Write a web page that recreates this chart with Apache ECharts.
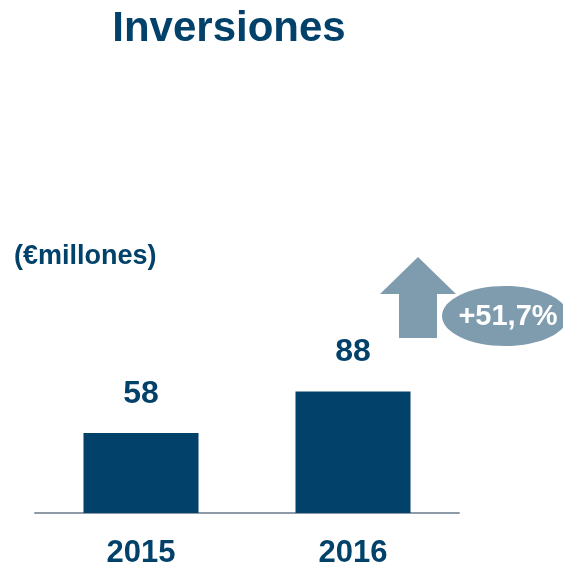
<!DOCTYPE html>
<html>
<head>
<meta charset="utf-8">
<script src="https://cdn.jsdelivr.net/npm/echarts@6/dist/echarts.min.js"></script>
<style>
  html, body { margin: 0; padding: 0; background: #fff; }
  #chart { width: 563px; height: 564px; }
</style>
</head>
<body>
<div id="chart"></div>
<script>
// data
var years = ['2015', '2016'];
var inversiones = [58, 88];
var growthLabel = '+51,7%';

var dark = '#02416a';
var grey = '#7f9caf';
var font = 'Liberation Sans, Arial, sans-serif';

var chart = echarts.init(document.getElementById('chart'));
chart.setOption({
  animation: false,
  title: {
    text: 'Inversiones',
    left: 224,
    top: 3,
    textAlign: 'center',
    textStyle: { color: dark, fontSize: 42, fontWeight: 'bold', fontFamily: font }
  },
  grid: { left: 35, right: 104, top: 375, bottom: 51, outerBoundsMode: 'none' },
  xAxis: {
    type: 'category',
    data: years,
    axisLine: { lineStyle: { color: '#8e9aa8', width: 2 } },
    axisTick: { show: false },
    axisLabel: { color: dark, fontSize: 31, fontWeight: 'bold', fontFamily: font, margin: 25 }
  },
  yAxis: {
    type: 'value',
    min: 0,
    max: 100,
    show: false,
    splitLine: { show: false }
  },
  series: [{
    type: 'bar',
    data: inversiones,
    barWidth: 115,
    itemStyle: { color: dark },
    label: {
      show: true,
      position: 'top',
      distance: 23,
      color: dark,
      fontSize: 32,
      fontWeight: 'bold',
      fontFamily: font
    }
  }],
  graphic: [
    {
      type: 'text',
      left: 14,
      top: 243,
      style: { text: '(€millones)', fill: dark, fontSize: 27, fontWeight: 'bold', fontFamily: font }
    },
    {
      type: 'polygon',
      shape: { points: [[418, 257], [456, 294], [437, 294], [437, 338], [399, 338], [399, 294], [380, 294]] },
      style: { fill: grey }
    },
    {
      type: 'ellipse',
      shape: { cx: 505, cy: 316, rx: 63, ry: 30 },
      style: { fill: grey }
    },
    {
      type: 'text',
      x: 508,
      y: 317,
      style: {
        text: growthLabel, fill: '#fff', fontSize: 29, fontWeight: 'bold', fontFamily: font,
        align: 'center', verticalAlign: 'middle'
      }
    }
  ]
});
</script>
</body>
</html>
